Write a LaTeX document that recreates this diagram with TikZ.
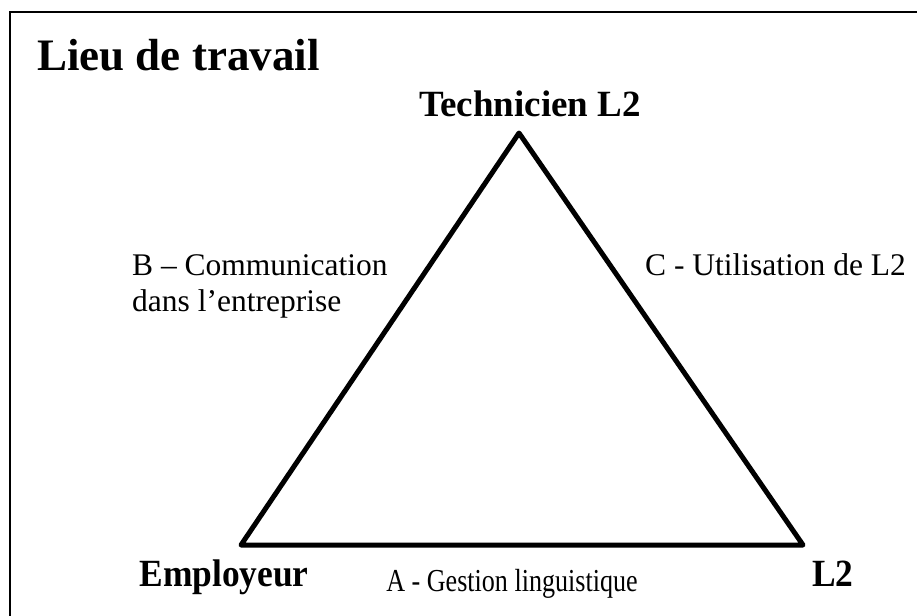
\documentclass[tikz,border=0pt]{standalone}
\usepackage{fontspec}
\setmainfont{Liberation Serif}
\usepackage{graphicx}
\begin{document}
\begin{tikzpicture}[x=1pt,y=-1pt,
  titlelbl/.style={font=\bfseries\fontsize{45}{52}\selectfont, inner sep=0pt},
  vertexlbl/.style={font=\bfseries\fontsize{37}{42}\selectfont, inner sep=0pt},
  sidelbl/.style={font=\fontsize{31.5}{37}\selectfont, inner sep=0pt},
  frameline/.style={line width=1.5pt},
  triline/.style={line width=5pt, line join=round, line cap=round}]
\useasboundingbox (0,0) rectangle (917,615);
% frame (only top and left edges visible)
\coordinate (fbl) at (10,616);
\coordinate (ftl) at (10,12);
\coordinate (ftr) at (918,12);
\draw[frameline] (fbl) -- (ftl) -- (ftr);
% title
\node[titlelbl, anchor=base west] (title) at (37,71) {Lieu de travail};
% triangle
\coordinate (apex) at (519,133);
\coordinate (bl) at (241,545);
\coordinate (br) at (803,545);
\draw[triline] (apex) -- (br) -- (bl) -- cycle;
% vertex labels
\node[vertexlbl, anchor=base] (tech) at (530,117) {Technicien L2};
\node[vertexlbl, anchor=base] (emp) at (224,586) {\scalebox{0.92}[1]{\bfseries\fontsize{38.5}{42}\selectfont Employeur}};
\node[vertexlbl, anchor=base] (ltwo) at (833,586) {\scalebox{0.92}[1]{\bfseries\fontsize{38.5}{42}\selectfont L2}};
% side labels
\node[sidelbl, anchor=base west] (blab) at (132,275) {B -- Communication};
\node[sidelbl, anchor=base west] (blabb) at (132,311) {dans l’entreprise};
\node[sidelbl, anchor=base west] (clab) at (645,275) {C - Utilisation de L2};
\node[sidelbl, anchor=base] (alab) at (512,591) {\scalebox{0.815}[1]{\fontsize{32}{37}\selectfont A - Gestion linguistique}};
\end{tikzpicture}
\end{document}
